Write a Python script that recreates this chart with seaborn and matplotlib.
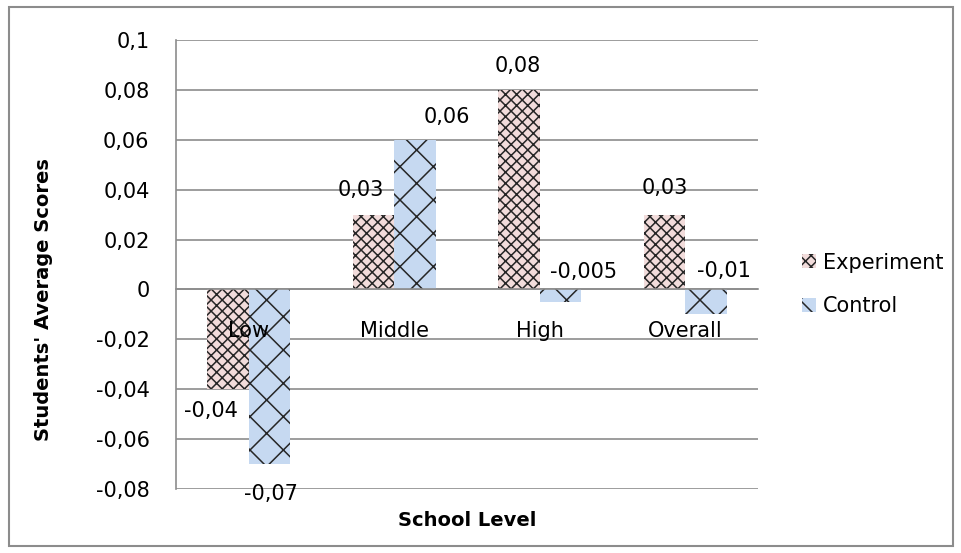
import numpy as np
import pandas as pd
import seaborn as sns
import matplotlib
matplotlib.use("Agg")
import matplotlib.pyplot as plt
from matplotlib.patches import Rectangle

# data
levels = ["Low", "Middle", "High", "Overall"]
experiment = [-0.04, 0.03, 0.08, 0.03]
control = [-0.07, 0.06, -0.005, -0.01]
exp_labels = ["-0,04", "0,03", "0,08", "0,03"]
ctl_labels = ["-0,07", "0,06", "-0,005", "-0,01"]
yticks = [-0.08, -0.06, -0.04, -0.02, 0, 0.02, 0.04, 0.06, 0.08, 0.1]
ytick_labels = ["-0,08", "-0,06", "-0,04", "-0,02", "0", "0,02", "0,04", "0,06", "0,08", "0,1"]

# label offsets (pixels) relative to bar end, like excel put them
exp_off = [(-17, -22), (-13, 25), (-1, 24), (0, 27)]
ctl_off = [(1, -30), (32, 23), (23, 30), (18, 43)]

df = pd.DataFrame({
    "level": levels * 2,
    "score": experiment + control,
    "group": ["Experiment"] * 4 + ["Control"] * 4,
})

sns.set_style("white")
plt.rcParams["font.family"] = ["DejaVu Sans"]
plt.rcParams["text.color"] = "black"
plt.rcParams["xtick.color"] = "black"
plt.rcParams["ytick.color"] = "black"
plt.rcParams["hatch.linewidth"] = 1.1

W, H = 962, 553
fig = plt.figure(figsize=(W / 100, H / 100), dpi=100)
ax = fig.add_axes([176 / W, 1 - 489 / H, (758 - 176) / W, (489 - 40) / H])

pink = "#f2dcdb"
blue = "#c6d9f1"
sns.barplot(data=df, x="level", y="score", hue="group", palette=[pink, blue],
            width=0.57, ax=ax, legend=False, saturation=1)

hatches = ["xxx", "x"]
hatch_cols = ["#262626", "#262626"]
for cont, h, hc in zip(ax.containers, hatches, hatch_cols):
    for p in cont.patches:
        p.set_hatch(h)
        p.set_edgecolor(hc)
        p.set_linewidth(0)

ax.set_ylim(-0.08, 0.1)
ax.set_yticks(yticks)
ax.set_yticklabels(ytick_labels, fontsize=15)
ax.tick_params(axis="y", length=0, pad=19, labelcolor="black")
ax.grid(axis="y", color="#8c8c8c", lw=1.2)
ax.set_axisbelow(True)
for s in ["top", "right"]:
    ax.spines[s].set_visible(False)
ax.spines["left"].set_color("#8c8c8c")
ax.spines["left"].set_linewidth(1.2)
ax.spines["bottom"].set_position(("data", 0))
ax.spines["bottom"].set_color("#8c8c8c")
ax.spines["bottom"].set_linewidth(1.2)
ax.tick_params(axis="x", length=0, pad=23, labelsize=15, labelcolor="black")
ax.xaxis.set_zorder(5)  # category names drawn over the bars, as in excel
ax.set_xlabel("")
ax.set_ylabel("")

# data labels
for cont, labs, offs in zip(ax.containers, [exp_labels, ctl_labels], [exp_off, ctl_off]):
    for p, lab, (dx, dy) in zip(cont.patches, labs, offs):
        xc = p.get_x() + p.get_width() / 2
        val = p.get_height()
        ax.annotate(lab, xy=(xc, val), xytext=(dx * 0.72, dy * 0.72),
                    textcoords="offset points", ha="center", va="center",
                    fontsize=15, color="black", zorder=6)

# legend
handles = [cont.patches[0] for cont in ax.containers]
fig.legend(handles, ["Experiment", "Control"], loc="center left",
           bbox_to_anchor=(802 / W, 1 - 284.5 / H), frameon=False, fontsize=15,
           handlelength=0.65, handleheight=0.65, handletextpad=0.35,
           labelspacing=1.15, borderpad=0, borderaxespad=0)

fig.text(44 / W, 1 - 300 / H, "Students' Average Scores", rotation=90,
         ha="center", va="center", fontsize=14, fontweight="bold", color="black")
fig.text(467 / W, 1 - 520 / H, "School Level", ha="center", va="center",
         fontsize=14, fontweight="bold", color="black")

fig.patches.append(Rectangle((9 / W, 7 / H), (953 - 9) / W, (546 - 7) / H,
                             transform=fig.transFigure, fill=False,
                             edgecolor="#8c8c8c", lw=1.5))

fig.savefig("out.png", dpi=100)
